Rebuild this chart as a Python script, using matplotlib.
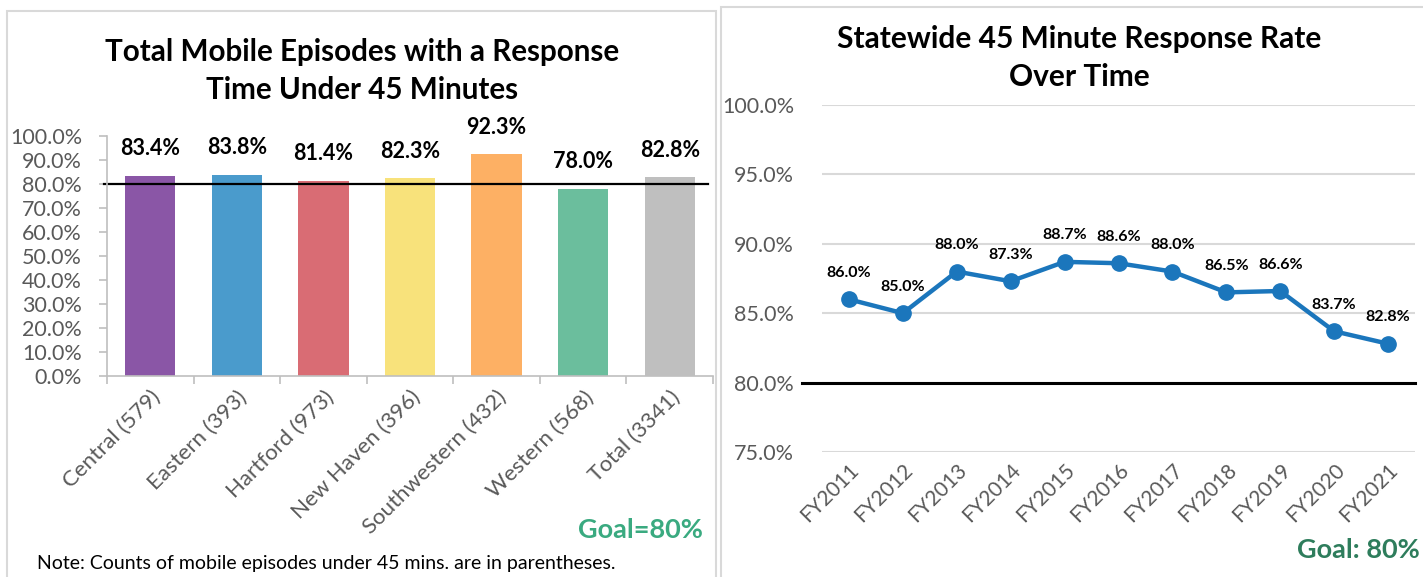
import matplotlib.pyplot as plt
import numpy as np
from matplotlib.patches import Rectangle
from matplotlib.ticker import FuncFormatter, FixedLocator

plt.rcParams['font.family'] = ['Lato', 'DejaVu Sans']

# left chart data
regions = ['Central (579)', 'Eastern (393)', 'Hartford (973)', 'New Haven (396)',
           'Southwestern (432)', 'Western (568)', 'Total (3341)']
region_rates = [83.4, 83.8, 81.4, 82.3, 92.3, 78.0, 82.8]
bar_colors = ['#8A56A6', '#4A9BCC', '#D96C74', '#F8E27B', '#FDB064', '#6BBE9D', '#BFBFBF']

# right chart data
years = ['FY2011', 'FY2012', 'FY2013', 'FY2014', 'FY2015', 'FY2016',
         'FY2017', 'FY2018', 'FY2019', 'FY2020', 'FY2021']
year_rates = [86.0, 85.0, 88.0, 87.3, 88.7, 88.6, 88.0, 86.5, 86.6, 83.7, 82.8]
goal = 80

W, H = 1423, 577
fig = plt.figure(figsize=(W / 100, H / 100), dpi=100)

def fx(px):
    return px / W

def fy(py):
    return 1 - py / H

# panel borders
fig.patches.append(Rectangle((fx(7), fy(600)), fx(709), fy(11) - fy(600),
                             transform=fig.transFigure, fill=False, ec='#D9D9D9', lw=1.5))
fig.patches.append(Rectangle((fx(721), fy(600)), fx(720), fy(7) - fy(600),
                             transform=fig.transFigure, fill=False, ec='#D9D9D9', lw=1.5))

pct = FuncFormatter(lambda v, p: f'{v:.1f}%')
gray = '#595959'

# ---- left: bar chart ----
ax1 = fig.add_axes([fx(107), fy(376), fx(606), fy(136) - fy(376)])
x = np.arange(len(regions))
ax1.bar(x, region_rates, width=0.58, color=bar_colors)
ax1.set_xlim(-0.5, len(regions) - 0.5)
ax1.set_ylim(0, 100)
ax1.set_yticks(np.arange(0, 101, 10))
ax1.yaxis.set_major_formatter(pct)
ax1.tick_params(axis='y', labelsize=15.5, colors='#BFBFBF', labelcolor=gray,
                length=6, width=1.2, pad=12)
ax1.xaxis.set_major_locator(FixedLocator(x))
ax1.set_xticklabels(regions, rotation=45, ha='right', va='top', rotation_mode='anchor',
                    fontsize=16, color=gray)
ax1.tick_params(axis='x', length=0, pad=8)
ax1.xaxis.set_minor_locator(FixedLocator(np.arange(-0.5, len(regions), 1)))
ax1.tick_params(axis='x', which='minor', length=6, width=1.2, colors='#BFBFBF')
for s in ['top', 'right']:
    ax1.spines[s].set_visible(False)
for s in ['left', 'bottom']:
    ax1.spines[s].set_color('#BFBFBF')
    ax1.spines[s].set_linewidth(1.2)
ax1.plot([-0.54, len(regions) - 0.56], [goal, goal], color='black', lw=1.6, clip_on=False)
for xi, v in zip(x, region_rates):
    ax1.annotate(f'{v:.1f}%', (xi, v), xytext=(0, 12), textcoords='offset points',
                 ha='center', va='bottom', fontsize=15.5, fontweight='bold')
fig.text(fx(362), fy(71), 'Total Mobile Episodes with a Response\nTime Under 45 Minutes',
         ha='center', va='center', fontsize=21.3, fontweight='bold', linespacing=1.45)
fig.text(fx(640), fy(530), 'Goal=80%', ha='center', va='center', fontsize=19.5,
         fontweight='bold', color='#3AAA80')
fig.text(fx(37), fy(563), 'Note: Counts of mobile episodes under 45 mins. are in parentheses.',
         ha='left', va='center', fontsize=14)

# ---- right: line chart ----
ax2 = fig.add_axes([fx(822), fy(452), fx(593), fy(105) - fy(452)])
xr = np.arange(len(years))
ax2.set_xlim(-0.5, len(years) - 0.5)
ax2.set_ylim(75, 100)
ax2.set_yticks(np.arange(75, 101, 5))
ax2.yaxis.set_major_formatter(pct)
ax2.grid(axis='y', color='#D9D9D9', lw=1.5)
ax2.set_axisbelow(True)
for s in ax2.spines.values():
    s.set_visible(False)
ax2.tick_params(axis='y', length=0, labelsize=15.5, labelcolor=gray, pad=20)
ax2.set_xticks(xr)
ax2.set_xticklabels(years, rotation=45, ha='right', va='top', rotation_mode='anchor',
                    fontsize=15, color=gray)
ax2.tick_params(axis='x', length=0, pad=6)
ax2.plot([-0.87, len(years) - 0.5], [goal, goal], color='black', lw=2.2, clip_on=False, zorder=3)
ax2.plot(xr, year_rates, color='#1B76BC', lw=3.2, marker='o', markersize=11, zorder=4)
for xi, v in zip(xr, year_rates):
    ax2.annotate(f'{v:.1f}%', (xi, v), xytext=(0, 14), textcoords='offset points',
                 ha='center', va='bottom', fontsize=11.5, fontweight='bold')
fig.text(fx(1079), fy(58), 'Statewide 45 Minute Response Rate\nOver Time',
         ha='center', va='center', fontsize=21.5, fontweight='bold', linespacing=1.45)
fig.text(fx(1420), fy(550), 'Goal: 80%', ha='right', va='center', fontsize=19.5,
         fontweight='bold', color='#2E7D5C')

fig.savefig('out.png', dpi=100)
